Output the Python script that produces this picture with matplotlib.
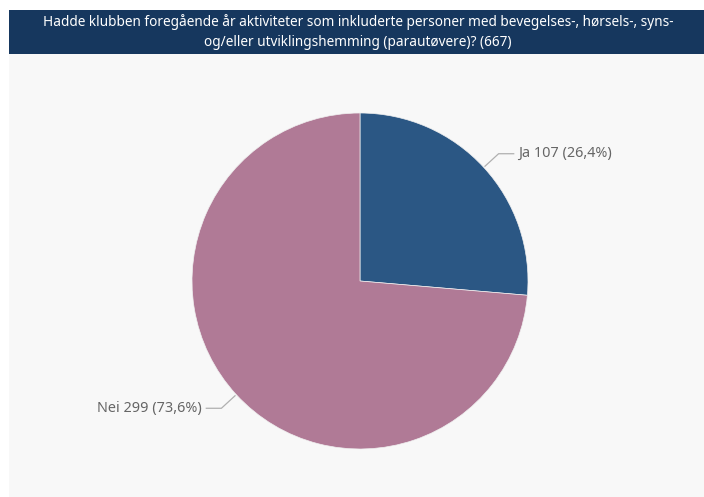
import matplotlib
matplotlib.use("Agg")
import matplotlib.pyplot as plt
import numpy as np
from matplotlib.patches import Rectangle

categories = ["Ja", "Nei"]
values = [107, 299]
pct_labels = ["26,4%", "73,6%"]
colors = ["#2b5784", "#b07a96"]
title = ("Hadde klubben foregående år aktiviteter som inkluderte personer med bevegelses-, hørsels-, syns-\n"
         "og/eller utviklingshemming (parautøvere)? (667)")

W, H = 704, 497
fig = plt.figure(figsize=(W / 100, H / 100), dpi=100)
fig.patch.set_facecolor("white")

def fx(x):
    return x / W

def fy(y):
    return 1 - y / H

bg = fig.add_axes([0, 0, 1, 1], zorder=0)
bg.set_xlim(0, W)
bg.set_ylim(H, 0)
bg.axis("off")
# panel background
bg.add_patch(Rectangle((9, 54), W - 9, H - 54, facecolor="#f8f8f8", edgecolor="none"))
# title band
bg.add_patch(Rectangle((9, 10), W - 9, 44, facecolor="#16375e", edgecolor="none"))
bg.text(358, 32, title, ha="center", va="center", color="white",
        fontsize=9.8, family="Noto Sans", linespacing=1.4)

# pie
cx, cy, r = 360, 281, 168
ax = fig.add_axes([fx(cx - r), fy(cy + r), 2 * r / W, 2 * r / H], zorder=2)
ax.set_facecolor("none")
wedges, _ = ax.pie(values, colors=colors, startangle=90, counterclock=False, radius=1,
                   wedgeprops=dict(linewidth=0.5, edgecolor="#f0f0f0"))
ax.set_xlim(-1, 1)
ax.set_ylim(-1, 1)
ax.set_aspect("equal")
ax.axis("off")

total = sum(values)
start = 90.0
for i, (cat, v, p) in enumerate(zip(categories, values, pct_labels)):
    span = v / total * 360
    mid = np.deg2rad(start - span / 2)
    start -= span
    x0, y0 = 1.0 * np.cos(mid), 1.0 * np.sin(mid)
    x1, y1 = 1.12 * np.cos(mid), 1.12 * np.sin(mid)
    side = 1 if np.cos(mid) > 0 else -1
    x2 = x1 + side * 0.09
    ax.plot([x0 * 1.01, x1, x2], [y0 * 1.01, y1, y1], color="#b0b0b0", lw=0.9, clip_on=False)
    ax.text(x2 + side * 0.025, y1, f"{cat} {v} ({p})", ha="left" if side > 0 else "right",
            va="center", color="#666666", fontsize=10.4, family="Noto Sans")

fig.savefig("out.png", dpi=100, facecolor=fig.get_facecolor())
